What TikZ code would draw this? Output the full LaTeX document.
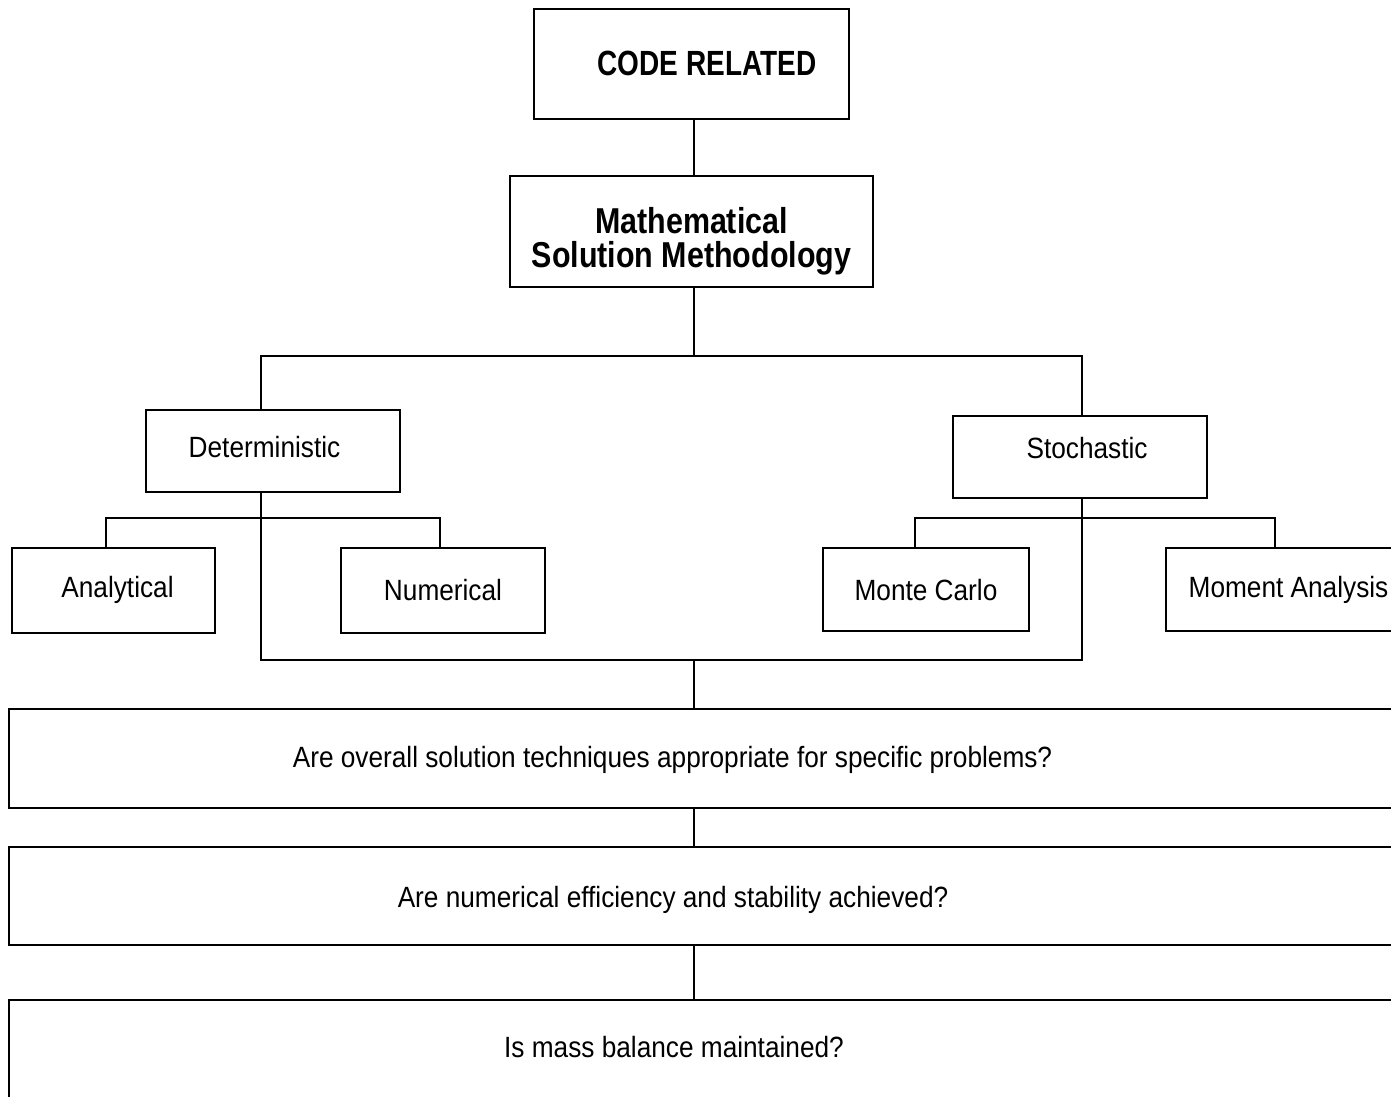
\documentclass[tikz,border=0pt]{standalone}
\usepackage{fontspec}
\setmainfont{Liberation Sans}
\newfontfamily\regf[FakeStretch=0.895]{Liberation Sans}
\newfontfamily\mathff[FakeStretch=0.845]{Liberation Sans}
\newfontfamily\codeff[FakeStretch=0.80]{Liberation Sans}
\begin{document}
\begin{tikzpicture}[x=1pt,y=-1pt,
  box/.style={draw, line width=2pt, inner sep=0pt, text depth=0pt,
    font=\regf\fontsize{29.3}{34}\selectfont},
  conn/.style={line width=2pt}]
\useasboundingbox (0,0) rectangle (1391,1096);
\clip (0,0) rectangle (1391,1096);
% top
\node[box, minimum width=315pt, minimum height=110pt, text height=22pt,
  font=\codeff\bfseries\fontsize{35}{34}\selectfont] (code) at (691.5,64)
  {\hspace*{31pt}CODE RELATED};
\node[box, minimum width=363pt, minimum height=111pt, text height=20pt, text depth=17pt,
  font=\mathff\bfseries\fontsize{36}{34}\selectfont] (math) at (691.5,231.5)
  {\vtop{\baselineskip=34pt\lineskiplimit=-100pt\halign{\hfil#\hfil\cr Mathematical\cr Solution Methodology\cr}}};
% level 2
\node[box, minimum width=254pt, minimum height=82pt, text height=12pt] (det) at (273,451)
  {Deterministic\hspace*{17pt}};
\node[box, minimum width=254pt, minimum height=82pt, text height=2pt] (stoch) at (1080,457)
  {\hspace*{14pt}Stochastic};
% level 3
\node[box, minimum width=203pt, minimum height=85pt, text height=13pt] (ana) at (113.5,590.5)
  {\hspace*{8pt}Analytical};
\node[box, minimum width=204pt, minimum height=85pt, text height=19pt] (num) at (443,590.5)
  {Numerical};
\node[box, minimum width=206pt, minimum height=83pt, text height=21pt] (mc) at (926,589.5)
  {Monte Carlo};
\node[box, minimum width=245pt, minimum height=83pt, text height=15pt] (mom) at (1288.5,589.5)
  {Moment Analysis};
% questions
\node[box, minimum width=1391pt, minimum height=99pt, text height=18pt] (q1) at (704.5,758.5)
  {Are overall solution techniques appropriate for specific problems?\hspace*{64pt}};
\node[box, minimum width=1391pt, minimum height=98pt, text height=22pt] (q2) at (704.5,896)
  {Are numerical efficiency and stability achieved?\hspace*{63pt}};
\node[box, minimum width=1391pt, minimum height=110pt, text height=4pt] (q3) at (704.5,1055)
  {Is mass balance maintained?\hspace*{61pt}};
% connectors
\coordinate (j1) at (694,356);
\coordinate (j2) at (694,660);
\coordinate (b1) at (0,518);
\draw[conn] ([xshift=2.5pt]code.south) -- ([xshift=2.5pt]math.north);
\draw[conn] ([xshift=2.5pt]math.south) -- (j1);
\draw[conn] ([xshift=-12pt]det.north) |- (j1) -| ([xshift=2pt]stoch.north);
\draw[conn] ([xshift=-12pt]det.south) |- ([xshift=2pt]stoch.south |- j2) -- ([xshift=2pt]stoch.south);
\draw[conn] (j2) -- (j2 |- q1.north);
\draw[conn] ([xshift=-7.5pt]ana.north) -- ([xshift=-7.5pt]ana.north |- b1) -- ([xshift=-3pt]num.north |- b1) -- ([xshift=-3pt]num.north);
\draw[conn] ([xshift=-11pt]mc.north) -- ([xshift=-11pt]mc.north |- b1) -- ([xshift=-13.5pt]mom.north |- b1) -- ([xshift=-13.5pt]mom.north);
\draw[conn] ([xshift=-10.5pt]q1.south) -- ([xshift=-10.5pt]q2.north);
\draw[conn] ([xshift=-10.5pt]q2.south) -- ([xshift=-10.5pt]q3.north);
\end{tikzpicture}
\end{document}
